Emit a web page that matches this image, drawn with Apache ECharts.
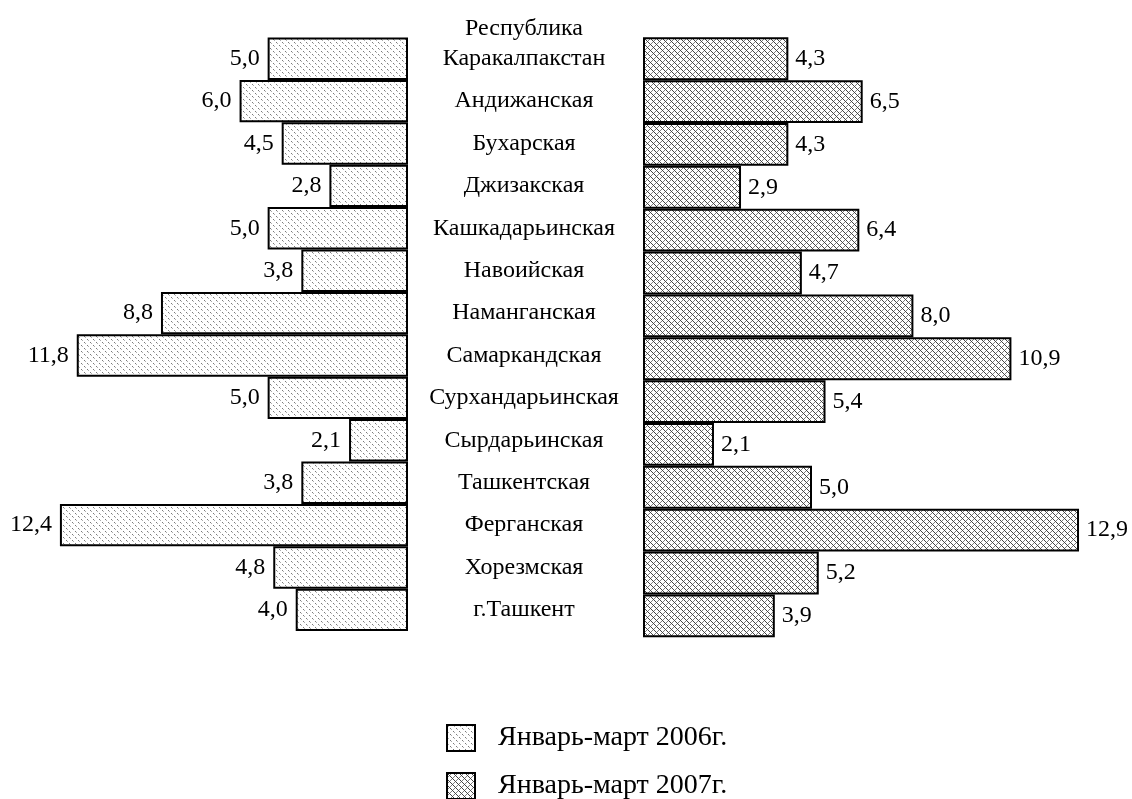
<!DOCTYPE html>
<html>
<head>
<meta charset="utf-8">
<script src="https://cdn.jsdelivr.net/npm/echarts@6/dist/echarts.min.js"></script>
<style>
  html, body { margin: 0; padding: 0; background: #fff; }
  #chart { width: 1132px; height: 799px; }
</style>
</head>
<body>
<div id="chart"></div>
<script>
// Regions (top to bottom)
const categories = [
  'Республика\nКаракалпакстан', 'Андижанская', 'Бухарская', 'Джизакская',
  'Кашкадарьинская', 'Навоийская', 'Наманганская', 'Самаркандская',
  'Сурхандарьинская', 'Сырдарьинская', 'Ташкентская', 'Ферганская',
  'Хорезмская', 'г.Ташкент'
];
// Январь-март 2006г.
const values2006 = [5.0, 6.0, 4.5, 2.8, 5.0, 3.8, 8.8, 11.8, 5.0, 2.1, 3.8, 12.4, 4.8, 4.0];
// Январь-март 2007г.
const values2007 = [4.3, 6.5, 4.3, 2.9, 6.4, 4.7, 8.0, 10.9, 5.4, 2.1, 5.0, 12.9, 5.2, 3.9];
const seriesNames = ['Январь-март 2006г.', 'Январь-март 2007г.'];

const FONT = '"Liberation Serif", "Times New Roman", "DejaVu Serif", serif';

// Stippled fill for the 2006 bars
function dotPattern() {
  const c = document.createElement('canvas');
  c.width = 6; c.height = 6;
  const g = c.getContext('2d');
  g.fillStyle = '#ffffff';
  g.fillRect(0, 0, 6, 6);
  g.fillStyle = '#7a7a7a';
  g.fillRect(0, 0, 1, 1);
  g.fillRect(3, 3, 1, 1);
  g.fillStyle = '#b0b0b0';
  g.fillRect(1, 1, 1, 1);
  g.fillRect(4, 4, 1, 1);
  return c;
}

// Shingle-like hatch for the 2007 bars
function hatchPattern() {
  const c = document.createElement('canvas');
  c.width = 6; c.height = 6;
  const g = c.getContext('2d');
  g.fillStyle = '#ffffff';
  g.fillRect(0, 0, 6, 6);
  g.strokeStyle = '#444444';
  g.lineWidth = 1;
  g.beginPath();
  // descending diagonals
  g.moveTo(-1, -1); g.lineTo(7, 7);
  g.moveTo(-4, 2); g.lineTo(4, 10);
  g.moveTo(2, -4); g.lineTo(10, 4);
  g.stroke();
  g.strokeStyle = '#808080';
  g.beginPath();
  // short rising strokes forming scales
  g.moveTo(0, 5); g.lineTo(2, 3);
  g.moveTo(3, 2); g.lineTo(5, 0);
  g.stroke();
  return c;
}

const fmt = v => v.toFixed(1).replace('.', ',');

// One legend block per series, stacked under the bars
const legendBase = {
  orient: 'vertical',
  left: 446,
  itemWidth: 28,
  itemHeight: 26,
  padding: 0,
  icon: 'rect',
  selectedMode: false,
  textStyle: { fontFamily: FONT, fontSize: 28, color: '#000', padding: [0, 0, 0, 18] }
};

const chart = echarts.init(document.getElementById('chart'), null, { renderer: 'canvas' });

chart.setOption({
  backgroundColor: '#ffffff',
  animation: false,
  textStyle: { fontFamily: FONT, color: '#000' },
  legend: [
    Object.assign({}, legendBase, { top: 724, data: [seriesNames[0]] }),
    Object.assign({}, legendBase, { top: 772, data: [seriesNames[1]] })
  ],
  grid: [
    { left: 15, width: 393, top: 37.5, height: 593.6, containLabel: false },
    { left: 643, width: 473.2, top: 37.3, height: 600, containLabel: false }
  ],
  xAxis: [
    { gridIndex: 0, type: 'value', min: 0, max: 14, inverse: true, show: false },
    { gridIndex: 1, type: 'value', min: 0, max: 14, show: false }
  ],
  yAxis: [
    {
      gridIndex: 0, type: 'category', data: categories, inverse: true,
      position: 'right',
      axisLine: { show: false }, axisTick: { show: false }, splitLine: { show: false },
      axisLabel: {
        show: true, interval: 0, hideOverlap: false, align: 'center', margin: 116,
        fontFamily: FONT, fontSize: 24, color: '#000', lineHeight: 30,
        // keep the last line of a two-line name on the row centre
        formatter: v => v.indexOf('\n') >= 0 ? v + '\n ' : v
      }
    },
    {
      gridIndex: 1, type: 'category', data: categories, inverse: true,
      axisLine: { show: false }, axisTick: { show: false }, splitLine: { show: false },
      axisLabel: { show: false }
    }
  ],
  series: [
    {
      name: seriesNames[0], type: 'bar', xAxisIndex: 0, yAxisIndex: 0,
      data: values2006, barCategoryGap: '0%',
      itemStyle: {
        color: { image: dotPattern(), repeat: 'repeat' },
        borderColor: '#000', borderWidth: 2
      },
      label: {
        show: true, position: 'left', distance: 8,
        fontFamily: FONT, fontSize: 24, color: '#000',
        formatter: p => fmt(p.value)
      }
    },
    {
      name: seriesNames[1], type: 'bar', xAxisIndex: 1, yAxisIndex: 1,
      data: values2007, barCategoryGap: '0%',
      itemStyle: {
        color: { image: hatchPattern(), repeat: 'repeat' },
        borderColor: '#000', borderWidth: 2
      },
      label: {
        show: true, position: 'right', distance: 7,
        fontFamily: FONT, fontSize: 24, color: '#000',
        formatter: p => fmt(p.value)
      }
    }
  ]
});
</script>
</body>
</html>
